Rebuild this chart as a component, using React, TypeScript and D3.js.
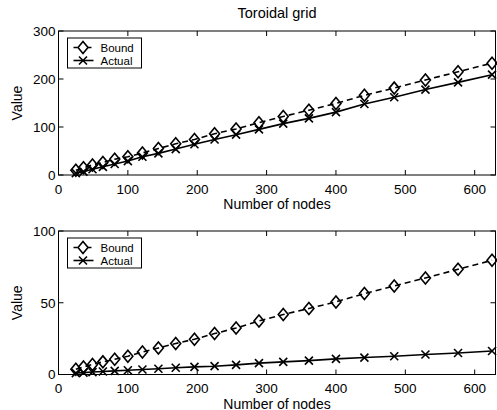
import React, { useEffect, useRef } from "react";
import * as d3 from "d3";

// number of nodes (5x5 ... 25x25 tori)
const nodes = [25, 36, 49, 64, 81, 100, 121, 144, 169, 196, 225, 256, 289, 324, 361, 400, 441, 484, 529, 576, 625];

// upper panel
const topBound = [10, 15, 21, 26, 33, 38, 46, 55, 65, 74, 86, 96, 109, 122, 135, 149, 166, 181, 198, 215, 233];
const topActual = [4, 7, 12, 17, 23, 29, 38, 45, 54, 64, 74, 84, 95, 107, 118, 131, 148, 162, 178, 193, 209];

// lower panel
const botBound = [3.7, 5.3, 7, 8.8, 10.6, 12.7, 15.7, 18.5, 21.6, 24.6, 28.5, 32.4, 37.3, 41.8, 46, 50.6, 56.4, 61.7, 67.3, 73.3, 79.6];
const botActual = [1, 1.3, 1.7, 2.1, 2.5, 3, 3.5, 4, 4.7, 5.3, 5.8, 6.7, 7.9, 8.8, 9.7, 10.9, 11.8, 12.7, 13.9, 15, 16.4];

const xTicks = [0, 100, 200, 300, 400, 500, 600];
const topYTicks = [0, 100, 200, 300];
const botYTicks = [0, 50, 100];
const seriesNames = ["Bound", "Actual"];

const FONT = "'Liberation Sans', Arial, Helvetica, sans-serif";

const App = () => {
  const ref = useRef<SVGSVGElement>(null);

  useEffect(() => {
    const svg = d3.select(ref.current);
    svg.selectAll("*").remove();

    const left = 58.5;
    const right = 495.5;
    const x = d3.scaleLinear().domain([0, 630]).range([left, right]);

    // title
    svg
      .append("text")
      .attr("x", (left + right) / 2)
      .attr("y", 17.5)
      .attr("text-anchor", "middle")
      .style("font-family", FONT)
      .style("font-size", "14.5px")
      .text("Toroidal grid");

    const drawPanel = (top: number, bottom: number, yMax: number, yTicks: number[], bound: number[], actual: number[]) => {
      const y = d3.scaleLinear().domain([0, yMax]).range([bottom, top]);
      const g = svg.append("g");

      // frame
      g.append("rect")
        .attr("x", left)
        .attr("y", top)
        .attr("width", right - left)
        .attr("height", bottom - top)
        .attr("fill", "white")
        .attr("stroke", "black")
        .attr("stroke-width", 1);

      // ticks inside on all sides
      const tl = 5;
      xTicks.forEach((t) => {
        g.append("line").attr("x1", x(t)).attr("x2", x(t)).attr("y1", bottom).attr("y2", bottom - tl).attr("stroke", "black");
        g.append("line").attr("x1", x(t)).attr("x2", x(t)).attr("y1", top).attr("y2", top + tl).attr("stroke", "black");
        g.append("text")
          .attr("x", x(t))
          .attr("y", bottom + 18.5)
          .attr("text-anchor", "middle")
          .style("font-family", FONT)
          .style("font-size", "13.5px")
          .text(t);
      });
      yTicks.forEach((t) => {
        g.append("line").attr("x1", left).attr("x2", left + tl).attr("y1", y(t)).attr("y2", y(t)).attr("stroke", "black");
        g.append("line").attr("x1", right).attr("x2", right - tl).attr("y1", y(t)).attr("y2", y(t)).attr("stroke", "black");
        g.append("text")
          .attr("x", left - 3)
          .attr("y", y(t))
          .attr("dy", "0.36em")
          .attr("text-anchor", "end")
          .style("font-family", FONT)
          .style("font-size", "13.5px")
          .text(t);
      });

      // axis labels
      g.append("text")
        .attr("x", (left + right) / 2)
        .attr("y", bottom + 34)
        .attr("text-anchor", "middle")
        .style("font-family", FONT)
        .style("font-size", "14px")
        .text("Number of nodes");
      g.append("text")
        .attr("transform", `translate(22, ${(top + bottom) / 2}) rotate(-90)`)
        .attr("text-anchor", "middle")
        .style("font-family", FONT)
        .style("font-size", "14px")
        .text("Value");

      const line = d3.line<number>().x((d, i) => x(nodes[i])).y((d) => y(d));

      g.append("path")
        .datum(bound)
        .attr("fill", "none")
        .attr("stroke", "black")
        .attr("stroke-width", 1.6)
        .attr("stroke-dasharray", "6,4")
        .attr("d", line);
      g.append("path")
        .datum(actual)
        .attr("fill", "none")
        .attr("stroke", "black")
        .attr("stroke-width", 1.6)
        .attr("d", line);

      const diamond = (cx: number, cy: number) =>
        `M${cx},${cy - 6}L${cx + 5},${cy}L${cx},${cy + 6}L${cx - 5},${cy}Z`;
      const cross = (cx: number, cy: number) =>
        `M${cx - 4},${cy - 4}L${cx + 4},${cy + 4}M${cx - 4},${cy + 4}L${cx + 4},${cy - 4}`;

      g.selectAll(".bm")
        .data(bound)
        .enter()
        .append("path")
        .attr("d", (d, i) => diamond(x(nodes[i]), y(d)))
        .attr("fill", "none")
        .attr("stroke", "black")
        .attr("stroke-width", 1.6);
      g.selectAll(".am")
        .data(actual)
        .enter()
        .append("path")
        .attr("d", (d, i) => cross(x(nodes[i]), y(d)))
        .attr("fill", "none")
        .attr("stroke", "black")
        .attr("stroke-width", 1.6);

      // legend
      const lx = left + 9;
      const ly = top + 7;
      g.append("rect")
        .attr("x", lx)
        .attr("y", ly)
        .attr("width", 74)
        .attr("height", 30)
        .attr("fill", "white")
        .attr("stroke", "black")
        .attr("stroke-width", 1);
      seriesNames.forEach((name, i) => {
        const ry = ly + 9.5 + i * 13;
        g.append("line")
          .attr("x1", lx + 6)
          .attr("x2", lx + 26)
          .attr("y1", ry)
          .attr("y2", ry)
          .attr("stroke", "black")
          .attr("stroke-width", 1.6)
          .attr("stroke-dasharray", i === 0 ? "4,3" : null);
        g.append("path")
          .attr("d", i === 0 ? diamond(lx + 15.5, ry) : cross(lx + 15.5, ry))
          .attr("fill", i === 0 ? "white" : "none")
          .attr("stroke", "black")
          .attr("stroke-width", 1.6);
        g.append("text")
          .attr("x", lx + 33)
          .attr("y", ry)
          .attr("dy", "0.36em")
          .style("font-family", FONT)
          .style("font-size", "11.5px")
          .text(name);
      });
    };

    drawPanel(31, 175, 300, topYTicks, topBound, topActual);
    drawPanel(231, 374.5, 100, botYTicks, botBound, botActual);
  }, []);

  return (
    <svg
      ref={ref}
      width={497}
      height={410}
      style={{ position: "absolute", left: 0, top: 0, background: "white" }}
    />
  );
};

export default App;
